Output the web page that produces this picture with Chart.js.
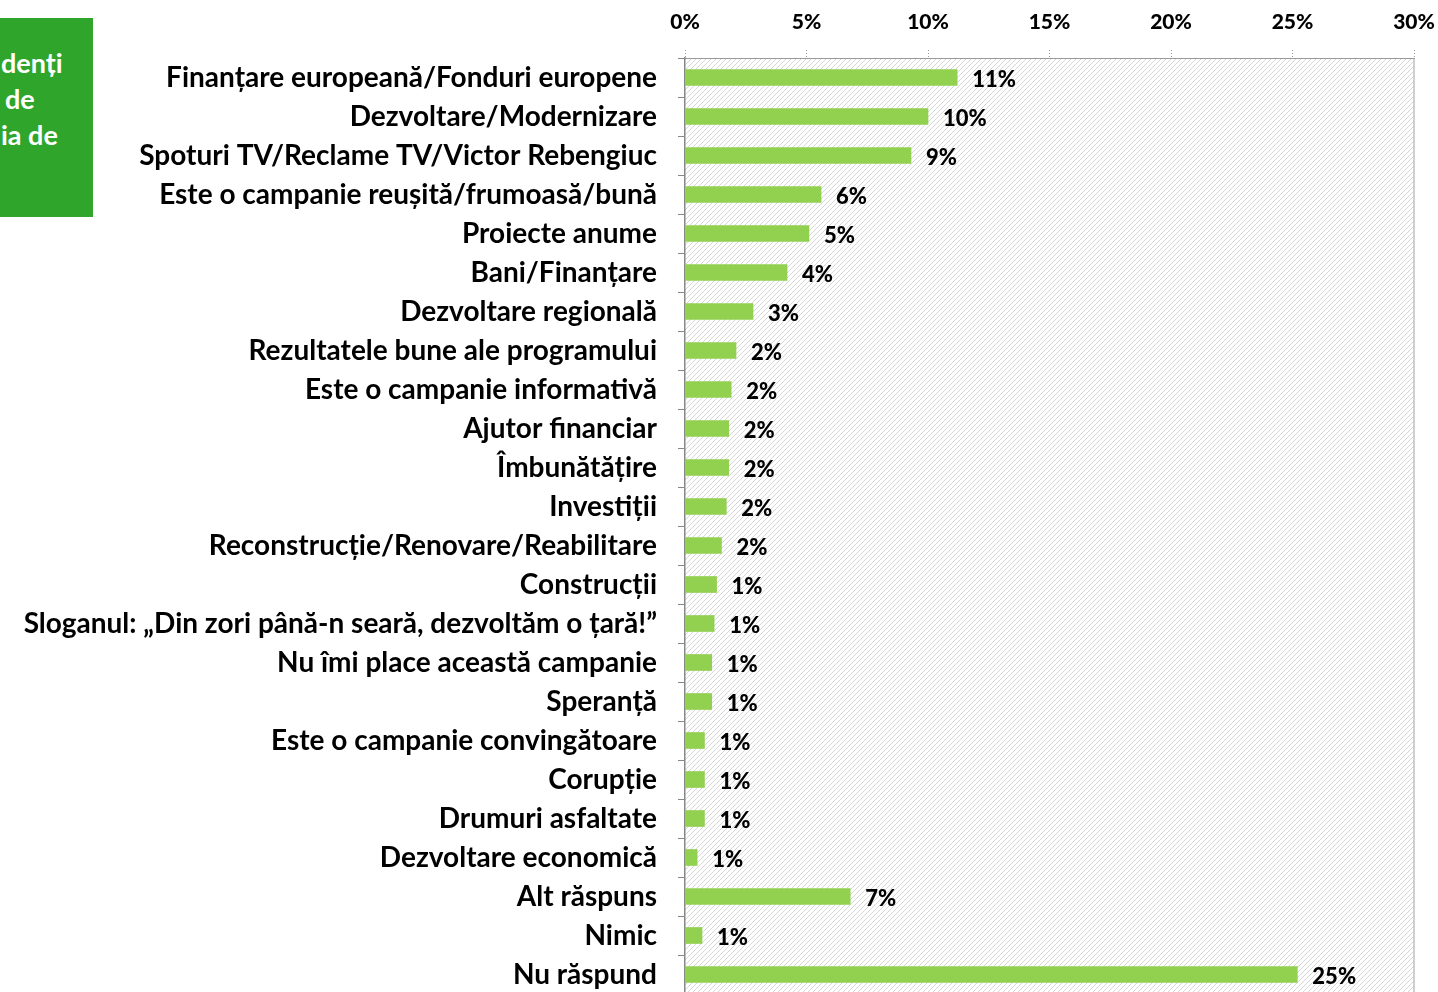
<!DOCTYPE html>
<html>
<head>
<meta charset="utf-8">
<script src="https://cdn.jsdelivr.net/npm/chart.js@4"></script>
<style>
  html, body { margin: 0; padding: 0; background: #fff; overflow: hidden; }
  #wrap { position: relative; width: 1438px; height: 994px; }
  #badge {
    position: absolute; left: 0; top: 18px; width: 93px; height: 199px;
    background: #2fa52b; color: #fff; overflow: hidden;
    font: bold 27px Lato, sans-serif;
  }
  #badge div { position: absolute; white-space: pre; line-height: 36px; }
</style>
</head>
<body>
<div id="wrap">
  <div id="badge">
    <div style="left:1px; top:27px;">denți</div>
    <div style="left:5px; top:63px;">de</div>
    <div style="left:1px; top:99px;">ia de</div>
  </div>
  <canvas id="chart" width="1438" height="994"></canvas>
</div>
<script>
const categories = [
  'Finanțare europeană/Fonduri europene',
  'Dezvoltare/Modernizare',
  'Spoturi TV/Reclame TV/Victor Rebengiuc',
  'Este o campanie reușită/frumoasă/bună',
  'Proiecte anume',
  'Bani/Finanțare',
  'Dezvoltare regională',
  'Rezultatele bune ale programului',
  'Este o campanie informativă',
  'Ajutor financiar',
  'Îmbunătățire',
  'Investiții',
  'Reconstrucție/Renovare/Reabilitare',
  'Construcții',
  'Sloganul: „Din zori până-n seară, dezvoltăm o țară!”',
  'Nu îmi place această campanie',
  'Speranță',
  'Este o campanie convingătoare',
  'Corupție',
  'Drumuri asfaltate',
  'Dezvoltare economică',
  'Alt răspuns',
  'Nimic',
  'Nu răspund'
];
const values = [11.2, 10.0, 9.3, 5.6, 5.1, 4.2, 2.8, 2.1, 1.9, 1.8, 1.8, 1.7, 1.5, 1.3, 1.2, 1.1, 1.1, 0.8, 0.8, 0.8, 0.5, 6.8, 0.7, 25.2];
const xTicks = [0, 5, 10, 15, 20, 25, 30];

// diagonal hatch for the plot area
function makeHatch() {
  const c = document.createElement('canvas');
  c.width = 5; c.height = 5;
  const g = c.getContext('2d');
  g.strokeStyle = '#d6d6d6';
  g.lineWidth = 1;
  g.beginPath();
  g.moveTo(0, 5); g.lineTo(5, 0);
  g.moveTo(-1, 1); g.lineTo(1, -1);
  g.moveTo(4, 6); g.lineTo(6, 4);
  g.stroke();
  return c;
}

const hatchPlugin = {
  id: 'hatch',
  beforeDraw(chart) {
    const { ctx, chartArea: a } = chart;
    ctx.save();
    ctx.fillStyle = ctx.createPattern(makeHatch(), 'repeat');
    ctx.fillRect(a.left, a.top, a.right - a.left, a.bottom - a.top);
    ctx.strokeStyle = '#c0c0c0';
    ctx.lineWidth = 1.5;
    ctx.beginPath();
    ctx.moveTo(a.right, a.top);
    ctx.lineTo(a.right, a.bottom);
    ctx.stroke();
    ctx.restore();
  }
};

const valueLabels = {
  id: 'valueLabels',
  afterDatasetsDraw(chart) {
    const { ctx } = chart;
    const meta = chart.getDatasetMeta(0);
    ctx.save();
    ctx.font = '900 22px Lato, sans-serif';
    ctx.fillStyle = '#000';
    ctx.textAlign = 'left';
    ctx.textBaseline = 'middle';
    meta.data.forEach((bar, i) => {
      ctx.fillText(Math.round(values[i]) + '%', bar.x + 15, bar.y + 2);
    });
    ctx.restore();
  }
};

new Chart(document.getElementById('chart'), {
  type: 'bar',
  data: {
    labels: categories,
    datasets: [{
      data: values,
      backgroundColor: '#92d050',
      barThickness: 16
    }]
  },
  options: {
    indexAxis: 'y',
    responsive: false,
    animation: false,
    layout: { padding: { left: 0, right: 24, top: 0, bottom: 0 } },
    plugins: { legend: { display: false }, tooltip: { enabled: false } },
    scales: {
      x: {
        position: 'top',
        min: 0,
        max: 30,
        afterBuildTicks(axis) { axis.ticks = xTicks.map(v => ({ value: v })); },
        afterFit(axis) {
          axis.height = 58;
          axis.paddingLeft = 0;
          axis.paddingRight = 0;
        },
        ticks: {
          callback: v => v + '%',
          color: '#000',
          font: { family: 'Lato, sans-serif', size: 21, weight: '900' },
          padding: 15,
          maxRotation: 0
        },
        grid: {
          drawOnChartArea: false,
          tickLength: 8,
          color: '#999',
          tickBorderDash: [1, 2]
        },
        border: { display: true, color: '#999', dash: [1, 2] }
      },
      y: {
        afterFit(axis) {
          axis.width = 685;
          axis.paddingTop = 0;
          axis.paddingBottom = 0;
        },
        ticks: {
          color: '#000',
          font: { family: 'Lato, sans-serif', size: 28, weight: 'bold' },
          padding: 21,
          autoSkip: false
        },
        grid: {
          drawOnChartArea: false,
          offset: true,
          tickLength: 7,
          color: '#888'
        },
        border: { display: true, color: '#888', width: 1.5 }
      }
    }
  },
  plugins: [hatchPlugin, valueLabels]
});
</script>
</body>
</html>
